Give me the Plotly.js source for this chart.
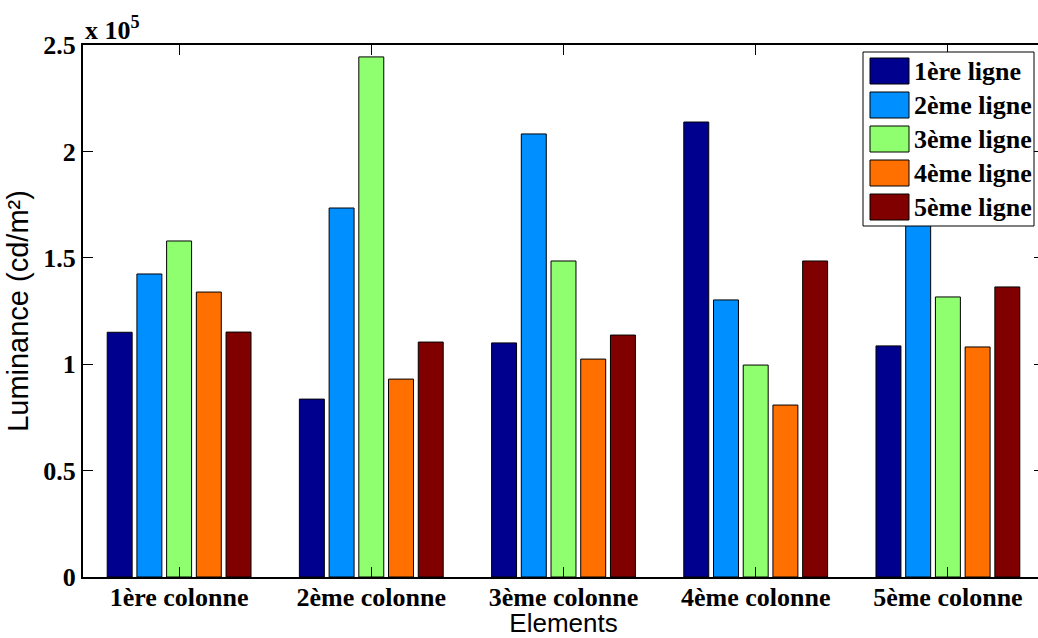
<!DOCTYPE html>
<html>
<head>
<meta charset="utf-8">
<script src="https://cdn.plot.ly/plotly-3.0.1.min.js"></script>
<style>
html,body{margin:0;padding:0;overflow:hidden;background:#fff;}
#chart{width:1050px;height:638px;}
</style>
</head>
<body>
<div id="chart"></div>
<script>
const categories = ['1ère colonne','2ème colonne','3ème colonne','4ème colonne','5ème colonne'];
const seriesNames = ['1ère ligne','2ème ligne','3ème ligne','4ème ligne','5ème ligne'];
const ligne1 = [115000, 83600, 110000, 213800, 108600];
const ligne2 = [142400, 173400, 208200, 130200, 175000];
const ligne3 = [157900, 244400, 148500, 99600, 131600];
const ligne4 = [133900, 93000, 102400, 80800, 108100];
const ligne5 = [115100, 110400, 113700, 148500, 136300];
const seriesColors = ['#00008F','#008FFF','#8FFF6F','#FF7000','#800000'];
const yTickVals = [0, 50000, 100000, 150000, 200000, 250000];
const yTickText = ['0','0.5','1','1.5','2','2.5'];

const allSeries = [ligne1, ligne2, ligne3, ligne4, ligne5];
const serif = 'Liberation Serif, Times New Roman, serif';
const sans = 'Liberation Sans, Arial, sans-serif';

const traces = allSeries.map((vals, i) => ({
  type: 'bar',
  name: seriesNames[i],
  x: categories,
  y: vals,
  showlegend: false,
  marker: {color: seriesColors[i], line: {color: '#000', width: 1}}
}));

// Legend drawn as a boxed key (MATLAB style, large swatches)
const plotL = 83, plotW = 961, plotB = 577, plotH = 532;
const px = v => (v - plotL) / plotW;
const py = v => (plotB - v) / plotH;
const shapes = [{
  type: 'rect', xref: 'paper', yref: 'paper',
  x0: px(863), x1: px(1034), y0: py(226), y1: py(52),
  fillcolor: '#fff', line: {color: '#000', width: 1}, layer: 'above'
}];
const annotations = [{
  xref: 'paper', yref: 'paper', x: 0, y: 1, xanchor: 'left', yanchor: 'bottom',
  text: 'x 10<sup>5</sup>', showarrow: false, yshift: -2,
  font: {family: serif, size: 26, color: '#000', weight: 'bold'}
}];
seriesNames.forEach((name, i) => {
  const top = 58 + 34 * i;
  shapes.push({
    type: 'rect', xref: 'paper', yref: 'paper',
    x0: px(870), x1: px(909), y0: py(top + 26), y1: py(top),
    fillcolor: seriesColors[i], line: {color: '#000', width: 1}, layer: 'above'
  });
  annotations.push({
    xref: 'paper', yref: 'paper', x: px(912), y: py(top + 13),
    xanchor: 'left', yanchor: 'middle', showarrow: false, text: name,
    font: {family: serif, size: 26, color: '#000', weight: 'bold'}
  });
});

const layout = {
  width: 1050, height: 638,
  margin: {l: 83, r: 6, t: 45, b: 61},
  paper_bgcolor: '#fff', plot_bgcolor: '#fff',
  barmode: 'group', bargap: 0.227, bargroupgap: 0.16,
  showlegend: false,
  xaxis: {
    type: 'category', range: [-0.5, 4.5],
    showline: true, linecolor: '#000', linewidth: 2, mirror: 'ticks',
    ticks: 'inside', ticklen: 10, tickwidth: 1, tickcolor: '#000',
    ticklabelstandoff: -4,
    showgrid: false, zeroline: false,
    tickfont: {family: serif, size: 26, color: '#000', weight: 'bold'},
    title: {text: 'Elements', font: {family: sans, size: 26, color: '#000'}, standoff: 7}
  },
  yaxis: {
    range: [0, 250000],
    tickvals: yTickVals, ticktext: yTickText,
    showline: true, linecolor: '#000', linewidth: 2, mirror: 'ticks',
    ticks: 'inside', ticklen: 10, tickwidth: 1, tickcolor: '#000',
    showgrid: false, zeroline: false,
    tickfont: {family: serif, size: 26, color: '#000', weight: 'bold'},
    title: {text: 'Luminance (cd/m²)', font: {family: sans, size: 29, color: '#000'}, standoff: 6}
  },
  shapes: shapes,
  annotations: annotations
};

Plotly.newPlot('chart', traces, layout, {displayModeBar: false, staticPlot: true});
</script>
</body>
</html>
